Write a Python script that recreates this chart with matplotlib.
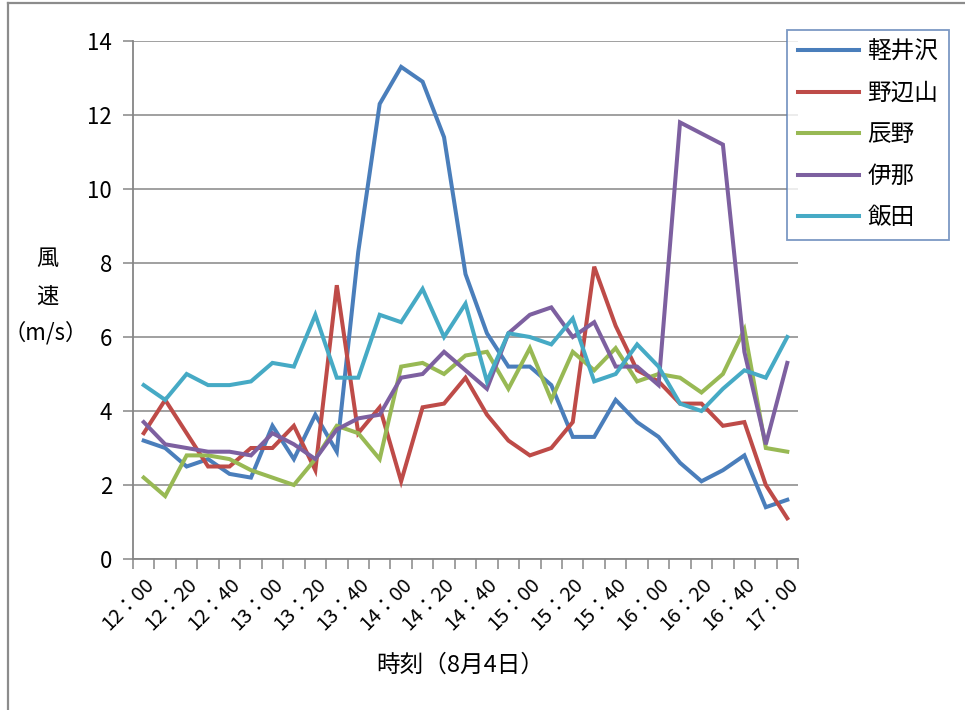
import numpy as np
import matplotlib
matplotlib.use('Agg')
import matplotlib.pyplot as plt
from matplotlib.lines import Line2D

plt.rcParams['font.family'] = ['Noto Sans CJK JP', 'DejaVu Sans']

# 10-minute readings, 12:00 - 17:00
times = ['%d：%02d' % (12 + m // 60, m % 60) for m in range(0, 301, 10)]

karuizawa = [3.2, 3.0, 2.5, 2.7, 2.3, 2.2, 3.6, 2.7, 3.9, 2.9, 8.3, 12.3, 13.3, 12.9, 11.4, 7.7,
             6.1, 5.2, 5.2, 4.7, 3.3, 3.3, 4.3, 3.7, 3.3, 2.6, 2.1, 2.4, 2.8, 1.4, 1.6]
nobeyama = [3.4, 4.3, 3.4, 2.5, 2.5, 3.0, 3.0, 3.6, 2.4, 7.4, 3.4, 4.1, 2.1, 4.1, 4.2, 4.9,
            3.9, 3.2, 2.8, 3.0, 3.7, 7.9, 6.3, 5.1, 4.8, 4.2, 4.2, 3.6, 3.7, 2.0, 1.1]
tatsuno = [2.2, 1.7, 2.8, 2.8, 2.7, 2.4, 2.2, 2.0, 2.7, 3.6, 3.4, 2.7, 5.2, 5.3, 5.0, 5.5,
           5.6, 4.6, 5.7, 4.3, 5.6, 5.1, 5.7, 4.8, 5.0, 4.9, 4.5, 5.0, 6.2, 3.0, 2.9]
ina = [3.7, 3.1, 3.0, 2.9, 2.9, 2.8, 3.4, 3.1, 2.7, 3.5, 3.8, 3.9, 4.9, 5.0, 5.6, 5.1,
       4.6, 6.1, 6.6, 6.8, 6.0, 6.4, 5.2, 5.2, 4.7, 11.8, 11.5, 11.2, 5.6, 3.1, 5.3]
iida = [4.7, 4.3, 5.0, 4.7, 4.7, 4.8, 5.3, 5.2, 6.6, 4.9, 4.9, 6.6, 6.4, 7.3, 6.0, 6.9,
        4.8, 6.1, 6.0, 5.8, 6.5, 4.8, 5.0, 5.8, 5.2, 4.2, 4.0, 4.6, 5.1, 4.9, 6.0]

names = ['軽井沢', '野辺山', '辰野', '伊那', '飯田']
colors = ['#4A7EBB', '#BE4B48', '#98B954', '#7D60A0', '#46AAC5']
series = [karuizawa, nobeyama, tatsuno, ina, iida]

fig = plt.figure(figsize=(9.65, 7.1), dpi=100)
ax = fig.add_axes([133/965, 1 - 559/710, 665/965, 518/710])

x = np.arange(len(times))
for vals, c, n in zip(series, colors, names):
    ax.plot(x, vals, color=c, lw=2.9, label=n, solid_joinstyle='miter')

ax.set_xlim(-0.5, len(times) - 0.5)
ax.set_ylim(0, 14)
ax.set_yticks(np.arange(0, 15, 2))
ax.grid(axis='y', color='#868686', lw=1.1)
ax.set_axisbelow(True)

# category boundaries as ticks, labels every 20 minutes
ax.set_xticks(np.arange(-0.5, len(times), 1.0))
ax.set_xticklabels([])
ax.set_xticks(x[::2], minor=True)
ax.set_xticklabels(times[::2], minor=True, rotation=45, ha='right',
                   rotation_mode='anchor', fontsize=14.5)
ax.tick_params(axis='x', which='major', length=7, color='#868686', width=1.1)
ax.tick_params(axis='x', which='minor', length=0, pad=11)
ax.tick_params(axis='y', length=7, color='#868686', width=1.1, labelsize=16, pad=8)

for s in ['top', 'right']:
    ax.spines[s].set_visible(False)
for s in ['left', 'bottom']:
    ax.spines[s].set_color('#868686')
    ax.spines[s].set_linewidth(1.3)

fig.text(47/965, 1 - 258/710, '風', fontsize=16, ha='center', va='center')
fig.text(47/965, 1 - 296/710, '速', fontsize=16, ha='center', va='center')
fig.text(46/965, 1 - 333/710, '（m/s）', fontsize=16, ha='center', va='center')
fig.text(460/965, 1 - 665/710, '時刻（8月4日）', fontsize=17, ha='center', va='center')

leg = ax.legend(loc='upper left', bbox_to_anchor=(787/965, 1 - 30/710),
                bbox_transform=fig.transFigure, fontsize=17, frameon=True,
                fancybox=False, handlelength=2.6, handletextpad=0.35,
                labelspacing=0.78, borderpad=0.45, borderaxespad=0)
leg.get_frame().set_edgecolor('#5B7FB5')
leg.get_frame().set_linewidth(1.3)

# chart area border (left and top edges visible)
fig.add_artist(Line2D([8/965, 8/965], [0, 1 - 3/710], transform=fig.transFigure,
                      color='#8C8C8C', lw=1.6))
fig.add_artist(Line2D([8/965, 1], [1 - 3/710, 1 - 3/710], transform=fig.transFigure,
                      color='#8C8C8C', lw=1.6))

plt.savefig('out.png', dpi=100)
